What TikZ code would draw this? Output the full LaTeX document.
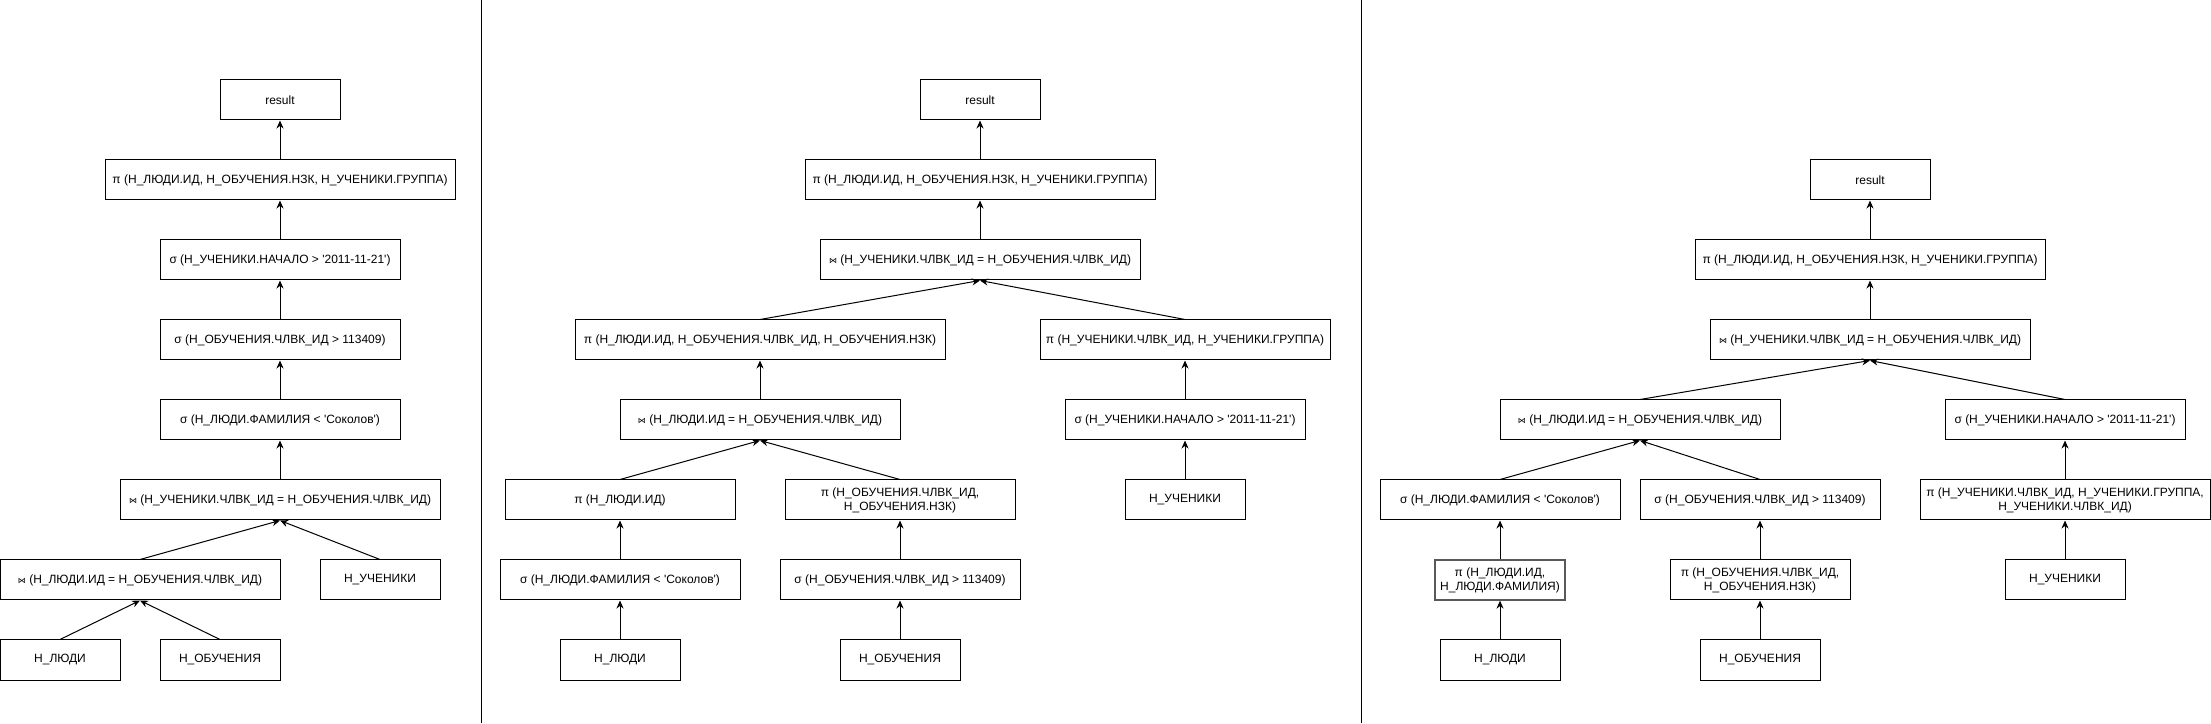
\documentclass[tikz,border=0pt]{standalone}
\usepackage{fontspec}
\setmainfont{Liberation Sans}
\newfontfamily\symfont{DejaVu Sans}
\usetikzlibrary{arrows.meta}
\newcommand\joinsym{{\symfont\fontsize{8}{8}\selectfont ⋈}}
\newcommand\q{\textquotesingle}

\begin{document}
\begin{tikzpicture}[x=1pt,y=1pt,node distance=80pt,
  box/.style={draw,line width=1pt,minimum height=40pt,inner sep=2pt,align=center,
    font=\fontsize{12}{14}\selectfont},
  arr/.style={-{Stealth[length=8pt,width=7pt]},line width=1pt}]
\useasboundingbox (0,0) rectangle (2211,723);

\draw[line width=1pt] (481,0) -- (481,723);
\draw[line width=1pt] (1361,0) -- (1361,723);

% first tree
\node[box,minimum width=120pt] (ludi1) at (60,63) {Н\_ЛЮДИ};
\node[box,minimum width=120pt] (obuch1) at (220,63) {Н\_ОБУЧЕНИЯ};
\node[box,minimum width=280pt] (jl1) at (140,143) {\joinsym\ (Н\_ЛЮДИ.ИД = Н\_ОБУЧЕНИЯ.ЧЛВК\_ИД)};
\node[box,minimum width=120pt] (uch1) at (380,143) {Н\_УЧЕНИКИ};
\node[box,minimum width=320pt] (ju1) at (280,223) {\joinsym\ (Н\_УЧЕНИКИ.ЧЛВК\_ИД = Н\_ОБУЧЕНИЯ.ЧЛВК\_ИД)};
\node[box,minimum width=240pt,above of=ju1] (sf1) {σ (Н\_ЛЮДИ.ФАМИЛИЯ < \q Соколов\q)};
\node[box,minimum width=240pt,above of=sf1] (sc1) {σ (Н\_ОБУЧЕНИЯ.ЧЛВК\_ИД > 113409)};
\node[box,minimum width=240pt,above of=sc1] (sn1) {σ (Н\_УЧЕНИКИ.НАЧАЛО > \q 2011-11-21\q)};
\node[box,minimum width=350pt,above of=sn1] (pr1) {π (Н\_ЛЮДИ.ИД, Н\_ОБУЧЕНИЯ.НЗК, Н\_УЧЕНИКИ.ГРУППА)};
\node[box,minimum width=120pt,above of=pr1] (res1) {result};

\draw[arr] (ludi1.north) -- (jl1.south);
\draw[arr] (obuch1.north) -- (jl1.south);
\draw[arr] (jl1.north) -- (ju1.south);
\draw[arr] (uch1.north) -- (ju1.south);
\draw[arr] (ju1) -- (sf1);
\draw[arr] (sf1) -- (sc1);
\draw[arr] (sc1) -- (sn1);
\draw[arr] (sn1) -- (pr1);
\draw[arr] (pr1) -- (res1);

% second tree
\node[box,minimum width=120pt] (ludi2) at (620,63) {Н\_ЛЮДИ};
\node[box,minimum width=120pt] (obuch2) at (900,63) {Н\_ОБУЧЕНИЯ};
\node[box,minimum width=240pt,above of=ludi2] (sf2) {σ (Н\_ЛЮДИ.ФАМИЛИЯ < \q Соколов\q)};
\node[box,minimum width=240pt,above of=obuch2] (sc2) {σ (Н\_ОБУЧЕНИЯ.ЧЛВК\_ИД > 113409)};
\node[box,minimum width=230pt,above of=sf2] (pl2) {π (Н\_ЛЮДИ.ИД)};
\node[box,minimum width=230pt,above of=sc2] (po2) {π (Н\_ОБУЧЕНИЯ.ЧЛВК\_ИД,\\Н\_ОБУЧЕНИЯ.НЗК)};
\node[box,minimum width=120pt] (uch2) at (1185,223) {Н\_УЧЕНИКИ};
\node[box,minimum width=280pt] (jl2) at (760,303) {\joinsym\ (Н\_ЛЮДИ.ИД = Н\_ОБУЧЕНИЯ.ЧЛВК\_ИД)};
\node[box,minimum width=240pt,above of=uch2] (sn2) {σ (Н\_УЧЕНИКИ.НАЧАЛО > \q 2011-11-21\q)};
\node[box,minimum width=370pt,above of=jl2] (plo2) {π (Н\_ЛЮДИ.ИД, Н\_ОБУЧЕНИЯ.ЧЛВК\_ИД, Н\_ОБУЧЕНИЯ.НЗК)};
\node[box,minimum width=290pt,above of=sn2] (pu2) {π (Н\_УЧЕНИКИ.ЧЛВК\_ИД, Н\_УЧЕНИКИ.ГРУППА)};
\node[box,minimum width=320pt] (ju2) at (980,463) {\joinsym\ (Н\_УЧЕНИКИ.ЧЛВК\_ИД = Н\_ОБУЧЕНИЯ.ЧЛВК\_ИД)};
\node[box,minimum width=350pt,above of=ju2] (pr2) {π (Н\_ЛЮДИ.ИД, Н\_ОБУЧЕНИЯ.НЗК, Н\_УЧЕНИКИ.ГРУППА)};
\node[box,minimum width=120pt,above of=pr2] (res2) {result};

\draw[arr] (ludi2) -- (sf2);
\draw[arr] (obuch2) -- (sc2);
\draw[arr] (sf2) -- (pl2);
\draw[arr] (sc2) -- (po2);
\draw[arr] (pl2.north) -- (jl2.south);
\draw[arr] (po2.north) -- (jl2.south);
\draw[arr] (uch2) -- (sn2);
\draw[arr] (jl2) -- (plo2);
\draw[arr] (sn2) -- (pu2);
\draw[arr] (plo2.north) -- (ju2.south);
\draw[arr] (pu2.north) -- (ju2.south);
\draw[arr] (ju2) -- (pr2);
\draw[arr] (pr2) -- (res2);

% third tree
\node[box,minimum width=120pt] (ludi3) at (1500,63) {Н\_ЛЮДИ};
\node[box,minimum width=120pt] (obuch3) at (1760,63) {Н\_ОБУЧЕНИЯ};
\node[box,minimum width=130pt,above of=ludi3,draw=gray!70!black,line width=1.3pt] (pl3) {π (Н\_ЛЮДИ.ИД,\\Н\_ЛЮДИ.ФАМИЛИЯ)};
\node[box,minimum width=180pt,above of=obuch3] (po3) {π (Н\_ОБУЧЕНИЯ.ЧЛВК\_ИД,\\Н\_ОБУЧЕНИЯ.НЗК)};
\node[box,minimum width=120pt] (uch3) at (2065,143) {Н\_УЧЕНИКИ};
\node[box,minimum width=240pt,above of=pl3] (sf3) {σ (Н\_ЛЮДИ.ФАМИЛИЯ < \q Соколов\q)};
\node[box,minimum width=240pt,above of=po3] (sc3) {σ (Н\_ОБУЧЕНИЯ.ЧЛВК\_ИД > 113409)};
\node[box,minimum width=290pt,above of=uch3] (pu3) {π (Н\_УЧЕНИКИ.ЧЛВК\_ИД, Н\_УЧЕНИКИ.ГРУППА,\\Н\_УЧЕНИКИ.ЧЛВК\_ИД)};
\node[box,minimum width=280pt] (jl3) at (1640,303) {\joinsym\ (Н\_ЛЮДИ.ИД = Н\_ОБУЧЕНИЯ.ЧЛВК\_ИД)};
\node[box,minimum width=240pt,above of=pu3] (sn3) {σ (Н\_УЧЕНИКИ.НАЧАЛО > \q 2011-11-21\q)};
\node[box,minimum width=320pt] (ju3) at (1870,383) {\joinsym\ (Н\_УЧЕНИКИ.ЧЛВК\_ИД = Н\_ОБУЧЕНИЯ.ЧЛВК\_ИД)};
\node[box,minimum width=350pt,above of=ju3] (pr3) {π (Н\_ЛЮДИ.ИД, Н\_ОБУЧЕНИЯ.НЗК, Н\_УЧЕНИКИ.ГРУППА)};
\node[box,minimum width=120pt,above of=pr3] (res3) {result};

\draw[arr] (ludi3) -- (pl3);
\draw[arr] (obuch3) -- (po3);
\draw[arr] (uch3) -- (pu3);
\draw[arr] (pl3) -- (sf3);
\draw[arr] (po3) -- (sc3);
\draw[arr] (pu3) -- (sn3);
\draw[arr] (sf3.north) -- (jl3.south);
\draw[arr] (sc3.north) -- (jl3.south);
\draw[arr] (jl3.north) -- (ju3.south);
\draw[arr] (sn3.north) -- (ju3.south);
\draw[arr] (ju3) -- (pr3);
\draw[arr] (pr3) -- (res3);
\end{tikzpicture}
\end{document}
